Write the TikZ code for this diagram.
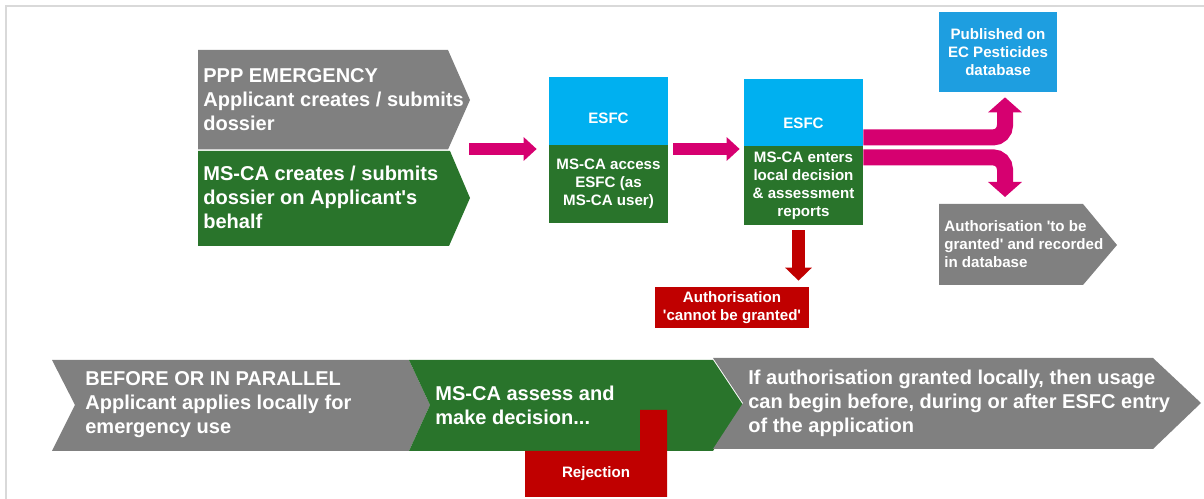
\documentclass[tikz,border=0pt]{standalone}
\usepackage{fontspec}
\setmainfont{Liberation Sans}
\usetikzlibrary{arrows.meta}
\definecolor{flowgrey}{RGB}{128,128,128}
\definecolor{flowgreen}{RGB}{41,116,43}
\definecolor{esfcblue}{RGB}{0,176,240}
\definecolor{pubblue}{RGB}{30,158,224}
\definecolor{flowpink}{RGB}{214,0,112}
\definecolor{flowred}{RGB}{192,0,0}
\definecolor{framegrey}{RGB}{217,217,217}

\begin{document}
\begin{tikzpicture}[x=0.02cm, y=-0.02cm,
    bigtext/.style={text=white, inner sep=0pt, align=left, anchor=west, font=\bfseries\fontsize{11.4}{13.7}\selectfont},
    smalltext/.style={text=white, inner sep=0pt, align=center, font=\bfseries\fontsize{8.6}{10.2}\selectfont},
    esfcbox/.style={smalltext, fill=esfcblue, minimum width=2.38cm, text height=0.5cm, text depth=0pt},
    greenbox/.style={smalltext, fill=flowgreen, minimum width=2.38cm},
    pinkarrow/.style={flowpink, line width=0.24cm, -{Triangle[width=0.46cm, length=0.26cm]}},
    fatarrow/.style={flowpink, line width=0.32cm, rounded corners=0.24cm, -{Triangle[width=0.66cm, length=0.3cm]}},
    redarrow/.style={flowred, line width=0.26cm, -{Triangle[width=0.52cm, length=0.26cm]}}]

    \useasboundingbox (0,0) rectangle (1204,499);
    \draw[framegrey, line width=0.04cm] (6,499) -- (6,6) -- (1204,6);

    \fill[flowgrey] (198,50) -- (448,50) -- (470,100) -- (448,149.5) -- (198,149.5) -- cycle;
    \fill[flowgreen] (198,151) -- (450,151) -- (470,198) -- (449,246) -- (198,246) -- cycle;
    \fill[flowgrey] (939,204) -- (1083,204) -- (1117,245) -- (1083,285) -- (939,285) -- cycle;

    \fill[flowgrey] (52,360) -- (409,360) -- (430,405) -- (409,451) -- (52,451) -- (75,405) -- cycle;
    \fill[flowgreen] (409,360) -- (713,360) -- (743,405) -- (713,451) -- (409,451) -- (430,405) -- cycle;
    \fill[flowgrey] (713,358) -- (1153,358) -- (1201,403) -- (1153,449) -- (713,449) -- (743,403) -- cycle;
    \fill[flowred] (640,410) -- (667,410) -- (667,497) -- (525,497) -- (525,451) -- (640,451) -- cycle;

    \node[bigtext] (ppp) at (203,100) {PPP EMERGENCY\\Applicant creates / submits\\dossier};
    \node[bigtext] (onbehalf) at (203,197) {MS-CA creates / submits\\dossier on Applicant\textquotesingle s\\behalf};

    \node[esfcbox, minimum height=1.36cm] (esfcA) at (608.5,111) {ESFC};
    \node[greenbox, minimum height=1.56cm] (accA) at (608.5,184) {MS-CA access\\ESFC (as\\MS-CA user)};
    \node[esfcbox, minimum height=1.34cm, text height=0.64cm] (esfcB) at (803.5,112.5) {ESFC};
    \node[greenbox, minimum height=1.58cm] (entB) at (803.5,185.5) {MS-CA enters\\local decision\\\& assessment\\reports};
    \node[smalltext, fill=flowred, minimum width=3.08cm, minimum height=0.82cm] (noGo) at (732,307.5) {Authorisation\\\textquotesingle cannot be granted\textquotesingle};
    \node[smalltext, fill=pubblue, minimum width=2.36cm, minimum height=1.6cm] (pub) at (998,52) {Published on\\EC Pesticides\\database};
    \node[smalltext, align=left, anchor=west] (granted) at (944,244) {Authorisation \textquotesingle to be\\granted\textquotesingle{} and recorded\\in database};

    \node[bigtext] (parallel) at (85,405) {BEFORE OR IN PARALLEL\\Applicant applies locally for\\emergency use};
    \node[bigtext] (assess) at (435,405) {MS-CA assess and\\make decision...};
    \node[bigtext] (usage) at (748,403) {If authorisation granted locally, then usage\\can begin before, during or after ESFC entry\\of the application};
    \node[smalltext] (rej) at (596,474) {Rejection};

    \coordinate (split) at (469,149);
    \coordinate (grantedtop) at (1005,204);
    \draw[pinkarrow, shorten >=0.24cm] (split) -- (split -| esfcA.west);
    \draw[pinkarrow, shorten <=0.1cm, shorten >=0.08cm] (split -| esfcA.east) -- (split -| esfcB.west);
    \draw[fatarrow, shorten >=0.1cm] ([yshift=-0.5cm]esfcB.east) -| ([xshift=0.14cm]pub.south);
    \draw[fatarrow, shorten >=0.14cm] ([yshift=-0.22cm]esfcB.south east) -| (grantedtop);
    \draw[redarrow, shorten <=0.1cm, shorten >=0.12cm] ([xshift=-0.1cm]entB.south) -- ([xshift=-0.1cm]entB.south |- noGo.north);

\end{tikzpicture}
\end{document}
